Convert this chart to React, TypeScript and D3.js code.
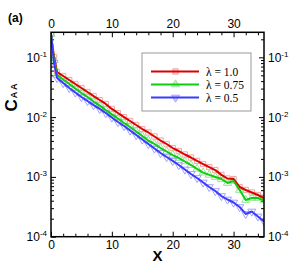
import React, { useEffect, useRef } from 'react';
import * as d3 from 'd3';

// distance X
const xValues = [0, 0.5, 1, 2, 3, 4, 5, 6, 7, 8, 9, 10, 11, 12, 13, 14, 15, 16, 17, 18, 19, 20,
  21, 22, 23, 24, 25, 26, 27, 28, 29, 30, 31, 32, 33, 34, 35];

// C_AA for lambda = 1.0
const redValues = [0.245, 0.101, 0.0568, 0.0487, 0.0417, 0.0358, 0.0307, 0.0263, 0.0225, 0.0193,
  0.0166, 0.0137, 0.0117, 0.0100, 0.00861, 0.00738, 0.00632, 0.00553, 0.00474, 0.00406, 0.00355,
  0.00304, 0.00271, 0.00237, 0.00211, 0.00185, 0.00164, 0.00146, 0.00130, 0.00108, 0.00094,
  0.00092, 0.000678, 0.000604, 0.000548, 0.000498, 0.000444];

// lambda = 0.75
const greenValues = [0.245, 0.0901, 0.0506, 0.0425, 0.0358, 0.0301, 0.0253, 0.0217, 0.0182, 0.0156,
  0.0131, 0.0111, 0.00948, 0.00797, 0.00683, 0.00574, 0.00483, 0.00406, 0.00355, 0.00304, 0.00266,
  0.00232, 0.00207, 0.00181, 0.00158, 0.00136, 0.00118, 0.00108, 0.000996, 0.000922, 0.000791,
  0.000854, 0.000604, 0.000411, 0.000444, 0.000444, 0.000403];

// lambda = 0.5
const blueValues = [0.245, 0.0803, 0.0451, 0.0372, 0.0307, 0.0258, 0.0217, 0.0186, 0.0159, 0.0137,
  0.0117, 0.00985, 0.00828, 0.00710, 0.00597, 0.00502, 0.00422, 0.00355, 0.00299, 0.00251, 0.00215,
  0.00185, 0.00158, 0.00133, 0.00112, 0.000959, 0.000806, 0.000678, 0.000581, 0.000479, 0.000419,
  0.000373, 0.000314, 0.000240, 0.000264, 0.000218, 0.000180];

const legendLabels = ['λ = 1.0', 'λ = 0.75', 'λ = 0.5'];
const xTicks = [0, 10, 20, 30];
const yTickExponents = [-1, -2, -3, -4];

const width = 300;
const height = 267;
const margin = { top: 32.3, right: 36, bottom: 30.3, left: 51 };

const series = [
  { values: redValues, line: '#dc0000', marker: '#f3a3a3', shape: d3.symbolSquare, rot: 0 },
  { values: greenValues, line: '#10cc10', marker: '#93e693', shape: d3.symbolTriangle, rot: 0 },
  { values: blueValues, line: '#3a3aff', marker: '#a3a3ff', shape: d3.symbolTriangle, rot: 180 },
];

export default function App() {
  const ref = useRef<SVGSVGElement>(null);

  useEffect(() => {
    const svg = d3.select(ref.current);
    svg.selectAll('*').remove();

    const x = d3.scaleLinear().domain([0, 35]).range([margin.left, width - margin.right]);
    const y = d3.scaleLog().domain([1e-4, 0.262]).range([height - margin.bottom, margin.top]);

    const [x0, x1] = x.range();
    const [y0, y1] = y.range();

    svg.append('defs').append('clipPath').attr('id', 'plot-clip')
      .append('rect')
      .attr('x', x0).attr('y', y1)
      .attr('width', x1 - x0).attr('height', y0 - y1);

    const xMinor = d3.range(0, 36, 2).filter((v) => v % 10 !== 0);
    const yMajor = yTickExponents.map((e) => 10 ** e);
    const yMinor: number[] = [];
    [-4, -3, -2, -1].forEach((e) => {
      for (let k = 2; k <= 9; k++) {
        const v = k * 10 ** e;
        if (v <= 0.262) yMinor.push(v);
      }
    });

    const font = '"Liberation Sans", Arial, sans-serif';

    const styleAxis = (g: any) => {
      g.select('.domain').remove();
      g.selectAll('.tick line').attr('stroke', '#000').attr('stroke-width', 1);
      g.selectAll('.tick text').attr('font-size', 12).attr('font-family', font).attr('fill', '#000');
    };

    // x axes
    svg.append('g').attr('transform', `translate(0,${y0})`)
      .call(d3.axisBottom(x).tickValues(xTicks).tickSize(-5).tickPadding(4).tickFormat(d3.format('d')) as any)
      .call(styleAxis);
    svg.append('g').attr('transform', `translate(0,${y0})`)
      .call(d3.axisBottom(x).tickValues(xMinor).tickSize(-3).tickFormat(() => '') as any)
      .call(styleAxis);
    svg.append('g').attr('transform', `translate(0,${y1})`)
      .call(d3.axisTop(x).tickValues(xTicks).tickSize(-5).tickPadding(4).tickFormat(d3.format('d')) as any)
      .call(styleAxis);
    svg.append('g').attr('transform', `translate(0,${y1})`)
      .call(d3.axisTop(x).tickValues(xMinor).tickSize(-3).tickFormat(() => '') as any)
      .call(styleAxis);

    // y axes
    svg.append('g').attr('transform', `translate(${x0},0)`)
      .call(d3.axisLeft(y).tickValues(yMajor).tickSize(-5).tickFormat(() => '') as any)
      .call(styleAxis);
    svg.append('g').attr('transform', `translate(${x0},0)`)
      .call(d3.axisLeft(y).tickValues(yMinor).tickSize(-3).tickFormat(() => '') as any)
      .call(styleAxis);
    svg.append('g').attr('transform', `translate(${x1},0)`)
      .call(d3.axisRight(y).tickValues(yMajor).tickSize(-5).tickFormat(() => '') as any)
      .call(styleAxis);
    svg.append('g').attr('transform', `translate(${x1},0)`)
      .call(d3.axisRight(y).tickValues(yMinor).tickSize(-3).tickFormat(() => '') as any)
      .call(styleAxis);

    // log labels 10^n on both sides
    const addPow = (xPos: number, anchor: string) => {
      yTickExponents.forEach((e) => {
        const t = svg.append('text')
          .attr('x', xPos)
          .attr('y', y(10 ** e) + 4.5)
          .attr('text-anchor', anchor)
          .attr('font-family', font)
          .attr('fill', '#000');
        t.append('tspan').attr('font-size', 12).text('10');
        t.append('tspan').attr('font-size', 8).attr('dy', -5).text(String(e));
      });
    };
    addPow(x0 - 4, 'end');
    addPow(x1 + 4, 'start');

    // markers then lines
    const plot = svg.append('g').attr('clip-path', 'url(#plot-clip)');
    series.forEach((s) => {
      const sym = d3.symbol().type(s.shape).size(28);
      plot.append('g')
        .selectAll('path')
        .data(s.values)
        .enter()
        .append('path')
        .attr('d', sym as any)
        .attr('transform', (d, i) => `translate(${x(xValues[i])},${y(d)}) rotate(${s.rot})`)
        .attr('fill', 'none')
        .attr('stroke', s.marker)
        .attr('stroke-width', 1);
    });
    series.forEach((s) => {
      const line = d3.line<number>()
        .x((d, i) => x(xValues[i]))
        .y((d) => y(d));
      plot.append('path')
        .attr('d', line(s.values))
        .attr('fill', 'none')
        .attr('stroke', s.line)
        .attr('stroke-width', 2)
        .attr('stroke-linejoin', 'round');
    });

    // frame
    svg.append('rect')
      .attr('x', x0).attr('y', y1)
      .attr('width', x1 - x0).attr('height', y0 - y1)
      .attr('fill', 'none')
      .attr('stroke', '#000')
      .attr('stroke-width', 1.5);

    // legend
    const lg = svg.append('g');
    lg.append('rect')
      .attr('x', 142).attr('y', 53)
      .attr('width', 109).attr('height', 58)
      .attr('fill', '#fff')
      .attr('stroke', '#999')
      .attr('stroke-width', 1);
    series.forEach((s, i) => {
      const ly = 71.5 + i * 13;
      const sym = d3.symbol().type(s.shape).size(28);
      lg.append('path')
        .attr('d', sym as any)
        .attr('transform', `translate(175.5,${ly}) rotate(${s.rot})`)
        .attr('fill', s.marker)
        .attr('fill-opacity', 0.5)
        .attr('stroke', s.marker);
      lg.append('line')
        .attr('x1', 151).attr('x2', 199)
        .attr('y1', ly).attr('y2', ly)
        .attr('stroke', s.line)
        .attr('stroke-width', 2);
      lg.append('text')
        .attr('x', 206)
        .attr('y', ly + 4)
        .attr('font-family', '"Liberation Serif", "Times New Roman", serif')
        .attr('font-size', 11.5)
        .attr('fill', '#000')
        .text(legendLabels[i]);
    });

    // titles
    svg.append('text')
      .attr('x', 8).attr('y', 22)
      .attr('font-family', font)
      .attr('font-weight', 'bold')
      .attr('font-size', 12)
      .text('(a)');

    const yl = svg.append('text')
      .attr('transform', 'translate(17,97.5) rotate(-90)')
      .attr('text-anchor', 'middle')
      .attr('font-family', font)
      .attr('font-weight', 'bold');
    yl.append('tspan').attr('font-size', 17).text('C');
    yl.append('tspan').attr('font-size', 9).attr('dx', 1).text('A A');

    svg.append('text')
      .attr('x', (x0 + x1) / 2).attr('y', 261)
      .attr('text-anchor', 'middle')
      .attr('font-family', font)
      .attr('font-weight', 'bold')
      .attr('font-size', 15)
      .text('X');
  }, []);

  return (
    <div style={{ position: 'absolute', left: 0, top: 0 }}>
      <svg ref={ref} width={width} height={height} style={{ display: 'block', background: '#fff' }} />
    </div>
  );
}
